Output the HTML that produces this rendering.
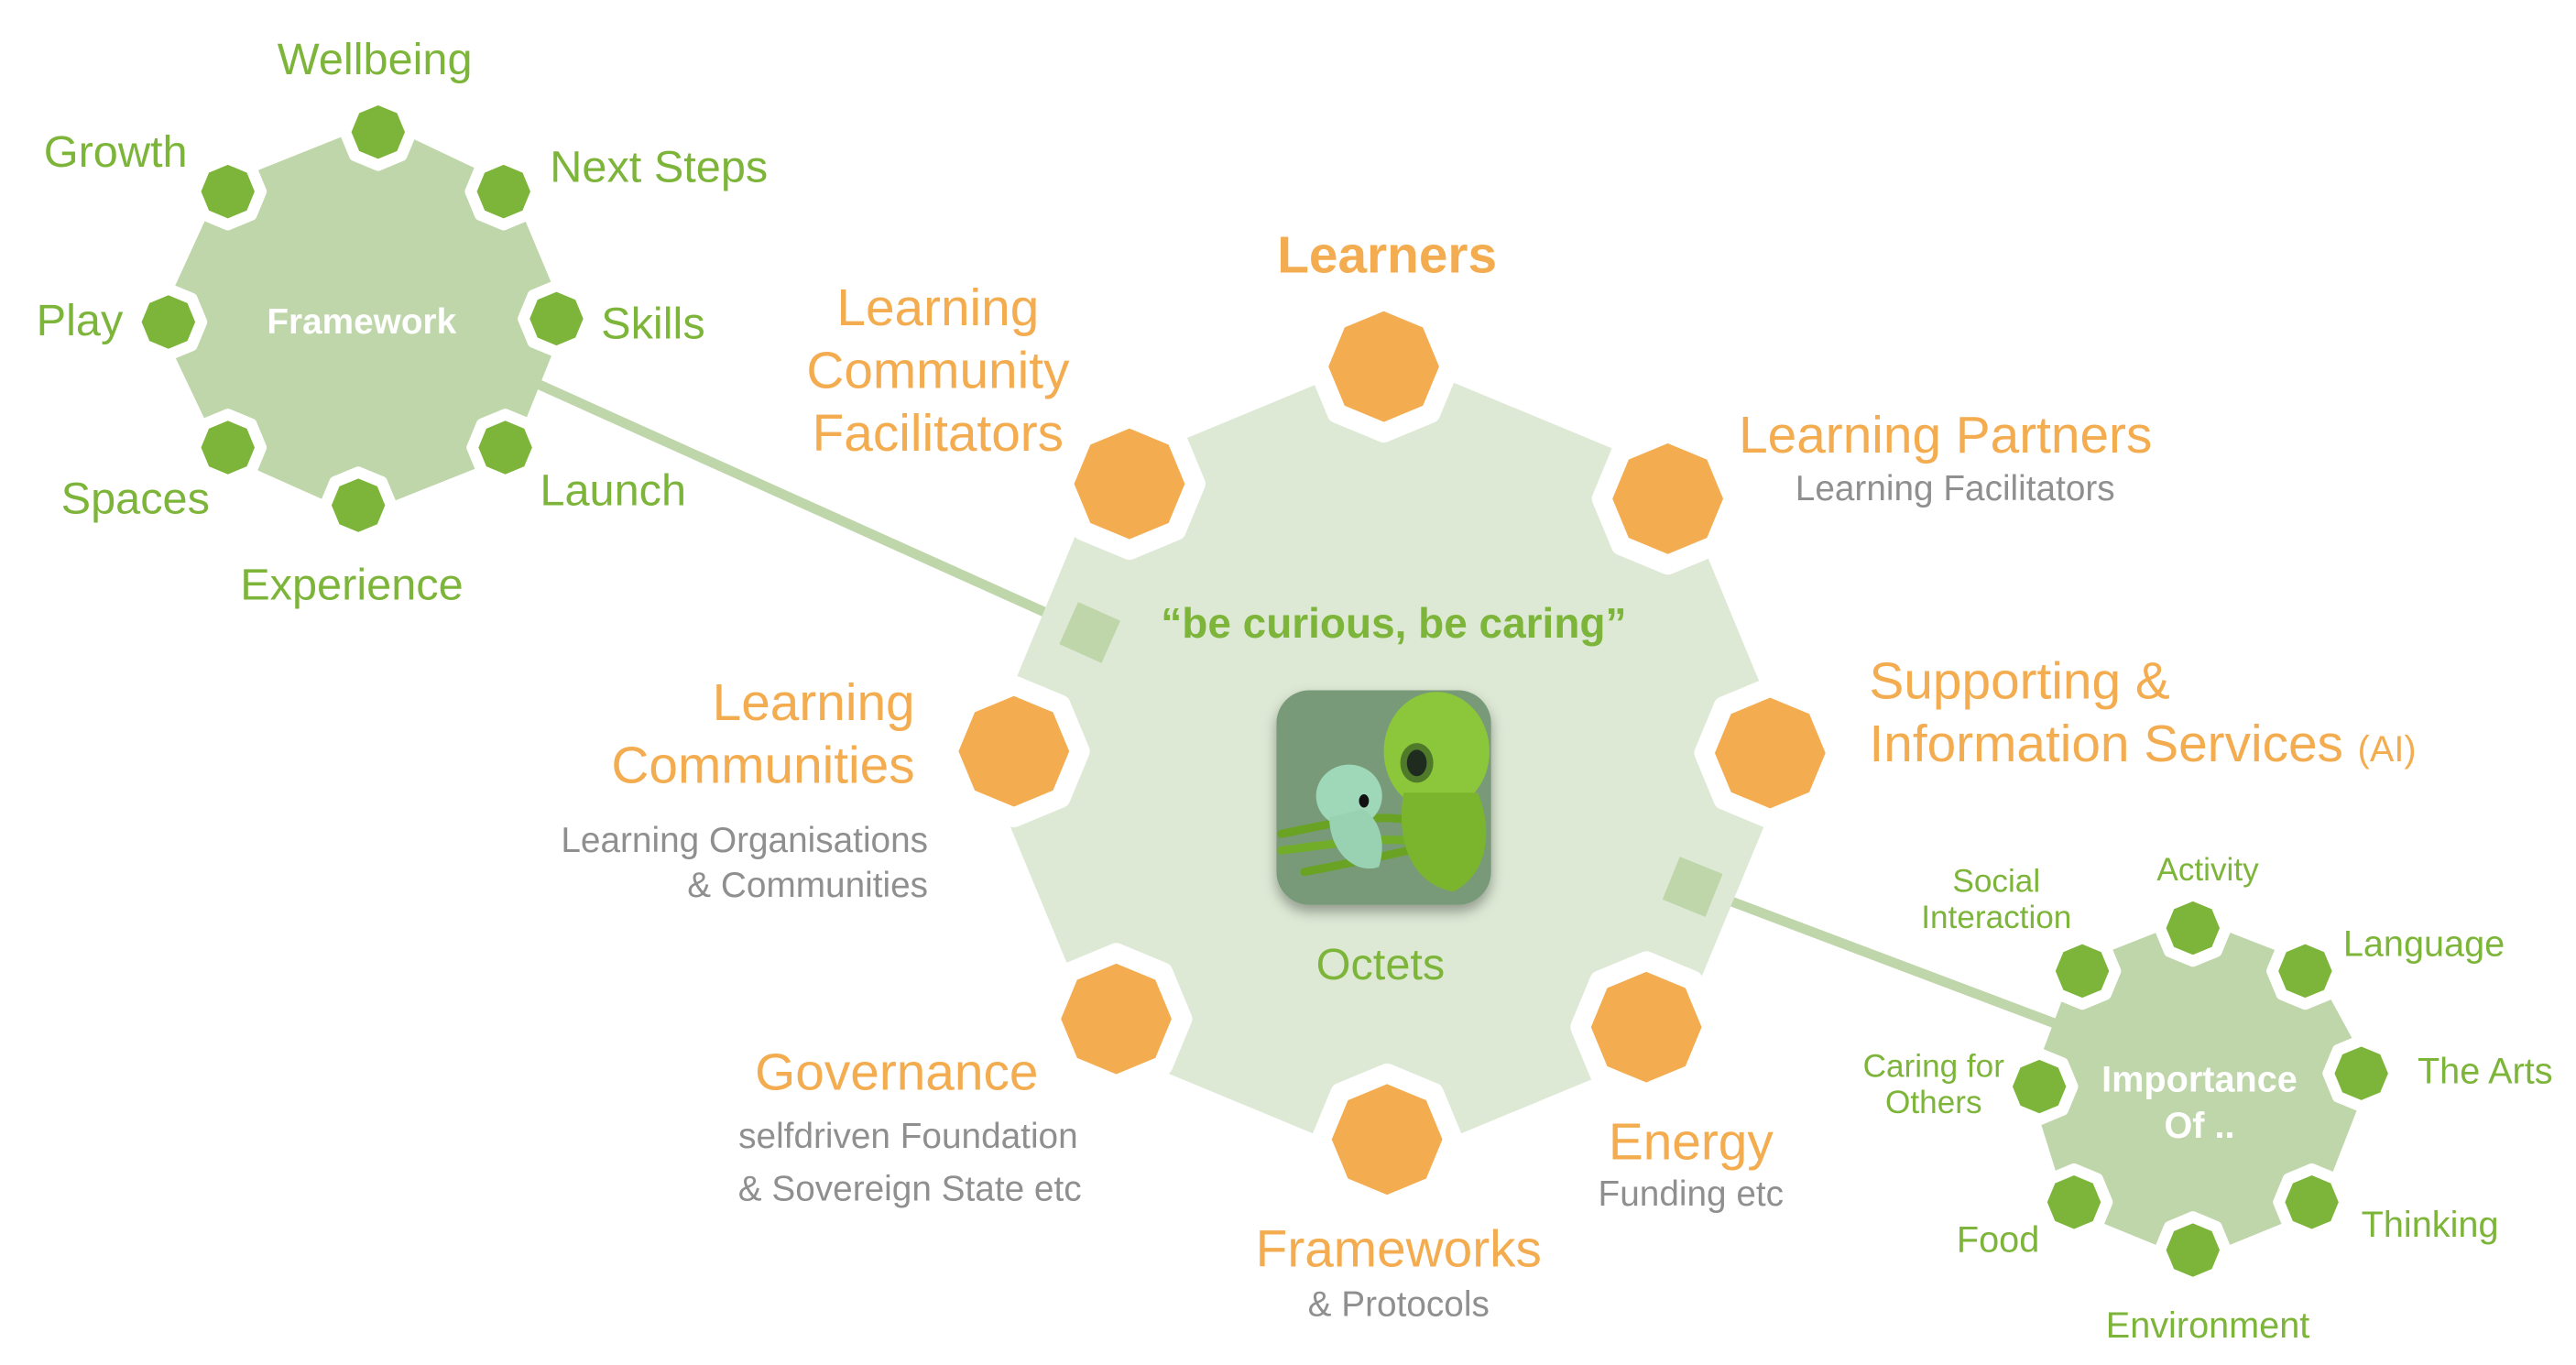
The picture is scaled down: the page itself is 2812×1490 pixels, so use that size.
<!DOCTYPE html>
<html><head><meta charset="utf-8"><style>
html,body{margin:0;padding:0;background:#fff;}
svg{display:block;}
text{font-family:"Liberation Sans",Arial,sans-serif;}
.o{fill:#f3ac4f;font-size:31.5px;}
.g{fill:#8f8f8f;font-size:21.5px;}
.gr{fill:#7db53a;font-size:27px;}
.gs{fill:#7db53a;font-size:19.5px;}
.gm{fill:#7db53a;font-size:22px;}
</style></head><body>
<svg width="2812" height="1490" viewBox="0 0 1560 826.6" preserveAspectRatio="none" xmlns="http://www.w3.org/2000/svg">
<defs>
<polygon id="on" points="0,-40 28.28,-28.28 40,0 28.28,28.28 0,40 -28.28,28.28 -40,0 -28.28,-28.28" fill="#f3ac4f" stroke="#fff" stroke-width="12" stroke-linejoin="round"/>
<polygon id="sn" points="0,-20 14.14,-14.14 20,0 14.14,14.14 0,20 -14.14,14.14 -20,0 -14.14,-14.14" fill="#7db53a" stroke="#fff" stroke-width="7" stroke-linejoin="round"/>
<filter id="sh" x="-20%" y="-20%" width="140%" height="140%"><feDropShadow dx="0" dy="4" stdDeviation="4" flood-color="#000" flood-opacity="0.35"/></filter>
</defs>

<line x1="320" y1="230" x2="660" y2="383" stroke="#bed6aa" stroke-width="6"/>
<line x1="1025" y1="537" x2="1245" y2="620" stroke="#bed6aa" stroke-width="6"/>

<polygon points="840,215 1013.2,286.8 1085,460 1013.2,633.2 840,705 666.8,633.2 595,460 666.8,286.8" fill="#dde9d5"/>
<rect x="-14" y="-14" width="28" height="28" fill="#bed6aa" transform="translate(660,383) rotate(24)"/>
<rect x="-14" y="-14" width="28" height="28" fill="#bed6aa" transform="translate(1025,537) rotate(22)"/>

<use href="#on" x="838" y="222"/>
<use href="#on" x="1010" y="302"/>
<use href="#on" x="1072" y="456"/>
<use href="#on" x="997" y="622"/>
<use href="#on" x="840" y="690"/>
<use href="#on" x="676" y="617"/>
<use href="#on" x="614" y="455"/>
<use href="#on" x="684" y="293"/>

<rect x="773" y="418" width="130" height="130" rx="20" fill="#789a78" filter="url(#sh)"/>
<g>
<path d="M776,505 C810,498 840,490 865,500" stroke="#6aa324" stroke-width="5" fill="none" stroke-linecap="round"/>
<path d="M776,515 C815,510 845,505 870,512" stroke="#72ad2a" stroke-width="5" fill="none" stroke-linecap="round"/>
<path d="M790,528 C830,520 860,515 885,505" stroke="#6aa324" stroke-width="5" fill="none" stroke-linecap="round"/>
<ellipse cx="870" cy="455" rx="32" ry="36" fill="#8cc63a"/>
<path d="M850,480 C845,510 855,535 880,540 C900,530 905,505 895,480 Z" fill="#7bb52e"/>
<ellipse cx="858" cy="462" rx="10" ry="12" fill="#4e7a2a"/>
<ellipse cx="858" cy="462" rx="6" ry="8" fill="#1e2b1e"/>
<ellipse cx="817" cy="482" rx="20" ry="19" fill="#9ed8b8"/>
<path d="M805,495 C805,515 820,530 835,525 C840,510 835,495 825,490 Z" fill="#98d2b2"/>
<ellipse cx="826" cy="485" rx="3" ry="4" fill="#111"/>
</g>

<text x="844" y="386" text-anchor="middle" font-weight="bold" font-size="25.5" fill="#7db53a">“be curious, be caring”</text>
<text x="836" y="593" text-anchor="middle" font-size="27" fill="#7db53a">Octets</text>

<text x="840" y="165" text-anchor="middle" class="o" font-weight="bold">Learners</text>
<text x="568" y="197" text-anchor="middle" class="o">Learning</text>
<text x="568" y="235" text-anchor="middle" class="o">Community</text>
<text x="568" y="273" text-anchor="middle" class="o">Facilitators</text>
<text x="1053" y="274" class="o">Learning Partners</text>
<text x="1184" y="303" text-anchor="middle" class="g">Learning Facilitators</text>
<text x="1132" y="423" class="o">Supporting &amp;</text>
<text x="1132" y="461" class="o">Information Services <tspan font-size="22">(AI)</tspan></text>
<text x="554" y="436" text-anchor="end" class="o">Learning</text>
<text x="554" y="474" text-anchor="end" class="o">Communities</text>
<text x="562" y="516" text-anchor="end" class="g">Learning Organisations</text>
<text x="562" y="543" text-anchor="end" class="g">&amp; Communities</text>
<text x="543" y="660" text-anchor="middle" class="o">Governance</text>
<text x="550" y="695" text-anchor="middle" class="g">selfdriven Foundation</text>
<text x="551" y="727" text-anchor="middle" class="g">&amp; Sovereign State etc</text>
<text x="1024" y="702" text-anchor="middle" class="o">Energy</text>
<text x="1024" y="730" text-anchor="middle" class="g">Funding etc</text>
<text x="847" y="767" text-anchor="middle" class="o">Frameworks</text>
<text x="847" y="797" text-anchor="middle" class="g">&amp; Protocols</text>

<polygon points="229,74 309,112 343,193 310,275 217,312 134,275 96,195 134,112" fill="#bed6aa"/>
<use href="#sn" x="229" y="80"/>
<use href="#sn" x="305" y="116"/>
<use href="#sn" x="337" y="193"/>
<use href="#sn" x="306" y="271"/>
<use href="#sn" x="217" y="306"/>
<use href="#sn" x="138" y="271"/>
<use href="#sn" x="102" y="195"/>
<use href="#sn" x="138" y="116"/>
<text x="219" y="202" text-anchor="middle" font-weight="bold" font-size="21.5" fill="#fff">Framework</text>
<text x="227" y="45" text-anchor="middle" class="gr">Wellbeing</text>
<text x="70" y="101" text-anchor="middle" class="gr">Growth</text>
<text x="333" y="110" class="gr">Next Steps</text>
<text x="22" y="203" class="gr">Play</text>
<text x="364" y="205" class="gr">Skills</text>
<text x="82" y="311" text-anchor="middle" class="gr">Spaces</text>
<text x="327" y="306" class="gr">Launch</text>
<text x="213" y="363" text-anchor="middle" class="gr">Experience</text>

<polygon points="1328,556 1400,584 1436,650 1404,732 1328,763 1252,732 1229,658 1257,584" fill="#bed6aa"/>
<use href="#sn" x="1328" y="562"/>
<use href="#sn" x="1396" y="588"/>
<use href="#sn" x="1430" y="650"/>
<use href="#sn" x="1400" y="728"/>
<use href="#sn" x="1328" y="757"/>
<use href="#sn" x="1256" y="728"/>
<use href="#sn" x="1235" y="658"/>
<use href="#sn" x="1261" y="588"/>
<text x="1332" y="661" text-anchor="middle" font-weight="bold" font-size="22" fill="#fff">Importance</text>
<text x="1332" y="689" text-anchor="middle" font-weight="bold" font-size="22" fill="#fff">Of ..</text>
<text x="1209" y="540" text-anchor="middle" class="gs">Social</text>
<text x="1209" y="562" text-anchor="middle" class="gs">Interaction</text>
<text x="1337" y="533" text-anchor="middle" class="gs">Activity</text>
<text x="1419" y="579" class="gm">Language</text>
<text x="1464" y="656" class="gm">The Arts</text>
<text x="1430" y="749" class="gm">Thinking</text>
<text x="1337" y="810" text-anchor="middle" class="gm">Environment</text>
<text x="1210" y="758" text-anchor="middle" class="gm">Food</text>
<text x="1171" y="652" text-anchor="middle" class="gs">Caring for</text>
<text x="1171" y="674" text-anchor="middle" class="gs">Others</text>
</svg>
</body></html>
